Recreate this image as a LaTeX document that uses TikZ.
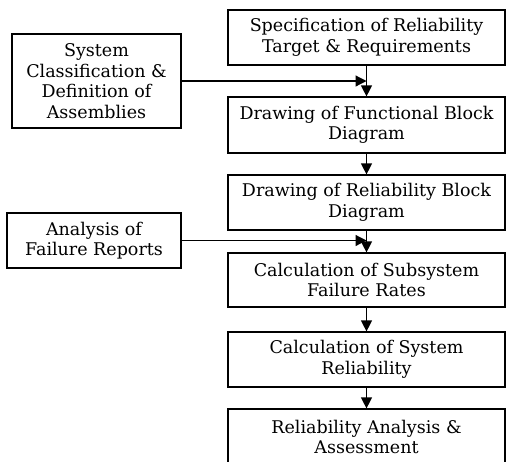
\documentclass[tikz,border=0pt]{standalone}
\usepackage{fontspec}
\setmainfont{DejaVu Serif}
\usetikzlibrary{arrows.meta}
\begin{document}
\begin{tikzpicture}[x=1pt,y=-1pt,
  box/.style={draw,line width=1.2pt,align=center,inner sep=0pt,
    font=\fontsize{17.5}{20.5}\selectfont},
  rbox/.style={box,minimum width=277pt},
  arr/.style={line width=1.2pt,-{Triangle[length=11pt,width=11pt]}}]
\useasboundingbox (0,0) rectangle (506,461);
\node[rbox,minimum height=55pt] (b1) at (366.5,37.5) {Specification of Reliability\\Target \& Requirements};
\node[rbox,minimum height=56pt] (b2) at (366.5,125) {Drawing of Functional Block\\Diagram};
\node[rbox,minimum height=55pt] (b3) at (366.5,202.5) {Drawing of Reliability Block\\Diagram};
\node[rbox,minimum height=54pt] (b4) at (366.5,280) {Calculation of Subsystem\\Failure Rates};
\node[rbox,minimum height=55pt] (b5) at (366.5,359.5) {Calculation of System\\Reliability};
\node[rbox,minimum height=56pt] (b6) at (366.5,437) {Reliability Analysis \&\\Assessment};
\node[box,minimum width=169pt,minimum height=94pt] (l1) at (96.5,81) {System\\Classification \&\\Definition of\\Assemblies};
\node[box,minimum width=174pt,minimum height=55pt] (l2) at (94,240.5) {Analysis of\\Failure Reports};
\draw[arr] (b1) -- (b2);
\draw[arr] (b2) -- (b3);
\draw[arr] (b3) -- (b4);
\draw[arr] (b4) -- (b5);
\draw[arr] (b5) -- (b6);
\draw[arr] (l1.east) -- (l1.east -| b1.south);
\draw[arr] (l2.east) -- (l2.east -| b3.south);
\end{tikzpicture}
\end{document}
